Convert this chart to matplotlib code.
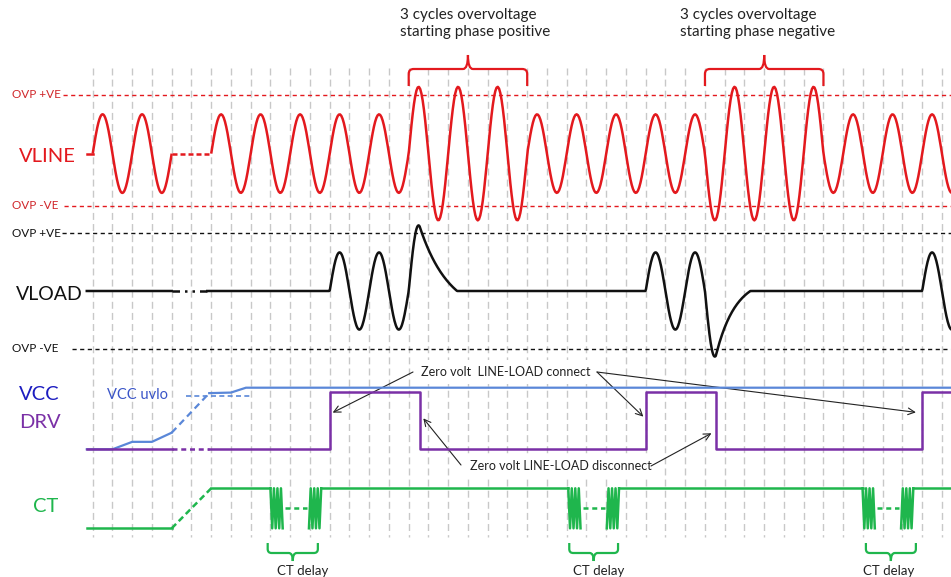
import numpy as np
import matplotlib
matplotlib.use("Agg")
import matplotlib.pyplot as plt
from matplotlib.path import Path
from matplotlib.patches import PathPatch
from matplotlib.transforms import blended_transform_factory

plt.rcParams.update({"font.family": ["Lato", "DejaVu Sans"]})

W_PX, H_PX = 951, 577
X0_PX, HALF_PX = 92.7, 19.75          # pixel of t=0 and pixels per mains half-cycle
T_LEFT = -X0_PX / HALF_PX
T_RIGHT = (W_PX - X0_PX) / HALF_PX

RED = "#e3191e"; INK = "#111111"; BLUE = "#5a87d8"; PURPLE = "#7a30a6"
GREEN = "#1fb64d"; NAVY = "#1c1cc0"; GRID = "#c8c8c8"

# ---------------- data (time in mains half-cycles, levels relative to nominal peak)
T_START = -0.3
# amplitude of each half-cycle of the line voltage (None = time break)
LINE_AMP = [1.0, 1.0, 1.0, 1.0,
            None, None,
            1.0, 1.0, 1.0, 1.0, 1.0, 1.0, 1.0, 1.0, 1.0, 1.0,
            1.7, 1.7, 1.7, 1.7, 1.7, 1.7,
            1.0, 1.0, 1.0, 1.0, 1.0, 1.0, 1.0, 1.0, 1.0,
            1.7, 1.7, 1.7, 1.7, 1.7, 1.7,
            1.0, 1.0, 1.0, 1.0, 1.0, 1.0, 1.0]
LINE_OVP = [1.5, -1.33]
LOAD_OVP = [1.5, -1.49]
OV_WINDOWS = [(16, 22, "3 cycles overvoltage\nstarting phase positive"),
              (31, 37, "3 cycles overvoltage\nstarting phase negative")]

DRV_ON = [12.0, 28.0, 42.0]
DRV_OFF = [16.55, 31.55, None]
LOAD_DECAY = [1.9, 1.75]              # ring-down length after each disconnect
LOAD_TAU = [1.5, 1.0]

VCC_T = [T_START, 1.0, 2.0, 3.0, 4.0]
VCC_V = [0.0, 0.0, 0.13, 0.13, 0.29]
VCC_RAMP_T = [4.0, 5.9]
VCC_RAMP_V = [0.29, 0.98]
VCC_RUN_T = [5.9, 7.0, 7.76, T_RIGHT + 1]
VCC_RUN_V = [0.98, 0.99, 1.075, 1.075]
UVLO_LEVEL = 0.93
UVLO_SPAN = (4.73, 8.0)

CT_RAMP = (4.0, 6.0)
CT_BURST = [9.0, 24.08, 38.98]
CT_DELAY = [(8.86, 11.4), (24.13, 26.6), (39.15, 41.68)]

OV_TEXT_X = [400, 680]                # layout (pixels)
CT_TEXT_X = [303, 599, 889]


def vline(t):
    t = np.asarray(t, dtype=float)
    out = np.zeros_like(t)
    for i, tt in enumerate(t):
        k = int(np.floor(tt))
        if 0 <= k < len(LINE_AMP) and LINE_AMP[k] is not None:
            out[i] = (-1) ** k * LINE_AMP[k] * np.sin(np.pi * (tt - k))
    return out


def vload(t):
    out = np.zeros_like(t)
    for on, off, dec, tau in zip(DRV_ON, DRV_OFF, LOAD_DECAY + [None], LOAD_TAU + [None]):
        end = T_RIGHT + 1 if off is None else off
        m = (t >= on) & (t <= end)
        out[m] = vline(t[m])
        if off is not None:
            v0 = vline([off])[0]
            m = (t > off) & (t <= off + dec)
            dt = t[m] - off
            out[m] = v0 * (np.exp(-dt / tau) - np.exp(-dec / tau)) / (1 - np.exp(-dec / tau))
    return out


# ---------------- figure
fig = plt.figure(figsize=(W_PX / 100, H_PX / 100), dpi=100)
fig.patch.set_facecolor("white")

page = fig.add_axes([0, 0, 1, 1])
page.set_xlim(0, W_PX); page.set_ylim(H_PX, 0)
page.axis("off")


def row_axes(center_px, gain_px):
    ax = fig.add_axes([0, 0, 1, 1])
    ax.set_xlim(T_LEFT, T_RIGHT)
    ax.set_ylim(-(H_PX - center_px) / gain_px, center_px / gain_px)
    ax.axis("off")
    ax.patch.set_visible(False)
    return ax


LINE_C, LINE_G = 153.6, 39.3
LOAD_C, LOAD_G = 291.0, 38.6
ax_line = row_axes(LINE_C, LINE_G)
ax_load = row_axes(LOAD_C, LOAD_G)
ax_drv = row_axes(449.3, 57.3)
ax_ct = row_axes(528.3, 40.0)

tpx = blended_transform_factory(ax_line.transData, page.transData)   # x: time, y: pixels

# time grid
page.vlines(np.arange(0, 44), 68, 537, transform=tpx, colors=GRID,
            linestyles=(0, (5, 3)), lw=1.0, zorder=0)

# ---- VLINE
lw = 1.8
for a, b in [(0, 4), (6, T_RIGHT + 0.5)]:
    t = np.linspace(a, b, 600)
    ax_line.plot(t, vline(t), color=RED, lw=lw, solid_capstyle="butt")
ax_line.plot([T_START, 0], [0, 0], color=RED, lw=lw)
ax_line.plot([4, 6], [0, 0], color=RED, lw=lw, ls=(0, (2, 1.2)))
for lvl, x_px, lab in zip(LINE_OVP, [63, 64], ["OVP +VE", "OVP -VE"]):
    ax_line.axhline(lvl, xmin=x_px / W_PX, color=RED, lw=1.0, ls=(0, (3, 2.5)))
    page.text(12, LINE_C - lvl * LINE_G, lab, color="#d0262a", fontsize=8.5, va="center")
page.text(19, 156, "VLINE", color=RED, fontsize=14.5, va="center")

# ---- VLOAD
for a, b in [(T_START, 4.0), (5.8, T_RIGHT + 0.5)]:
    t = np.linspace(a, b, 1200)
    ax_load.plot(t, vload(t), color=INK, lw=lw)
ax_load.plot([4.0, 5.8], [0, 0], color=INK, lw=lw, ls=(0, (3, 2, 1, 2, 1, 2)))
for lvl, x_px, lab in zip(LOAD_OVP, [62, 72], ["OVP +VE", "OVP -VE"]):
    ax_load.axhline(lvl, xmin=x_px / W_PX, color=INK, lw=1.0, ls=(0, (3, 2.5)))
    page.text(12, LOAD_C - lvl * LOAD_G, lab, color=INK, fontsize=8.5, va="center")
page.text(16, 294, "VLOAD", color=INK, fontsize=14, va="center")

# ---- VCC / DRV
ax_drv.plot(VCC_T, VCC_V, color=BLUE, lw=1.6)
ax_drv.plot(VCC_RAMP_T, VCC_RAMP_V, color=BLUE, lw=1.6, ls=(0, (3, 2)))
ax_drv.plot(VCC_RUN_T, VCC_RUN_V, color=BLUE, lw=1.6)
ax_drv.plot(UVLO_SPAN, [UVLO_LEVEL] * 2, color=BLUE, lw=1.2, ls=(0, (3, 2)))
page.text(107, 395, "VCC uvlo", color="#3a55c8", fontsize=10.5, va="center")

drv_t, drv_v = [T_START], [0.0]
for on, off in zip(DRV_ON, DRV_OFF):
    drv_t += [on, on]; drv_v += [0, 1]
    if off is None:
        drv_t.append(T_RIGHT + 1); drv_v.append(1)
    else:
        drv_t += [off, off]; drv_v += [1, 0]
drv_t = np.array(drv_t); drv_v = np.array(drv_v)
ax_drv.plot([T_START, 4.0], [0, 0], color=PURPLE, lw=lw)
ax_drv.plot([4.0, 5.9], [0, 0], color=PURPLE, lw=lw, ls=(0, (2, 1.5)))
ax_drv.plot(np.r_[5.9, drv_t[1:]], drv_v, color=PURPLE, lw=lw)
page.text(19, 395, "VCC", color=NAVY, fontsize=14.5, va="center")
page.text(19, 422, "DRV", color=PURPLE, fontsize=14.5, va="center")

# ---- CT
ax_ct.plot([T_START, CT_RAMP[0]], [0, 0], color=GREEN, lw=lw)
ax_ct.plot(CT_RAMP, [0, 1], color=GREEN, lw=lw, ls=(0, (2.5, 1.5)))
w, gap = 0.62, 1.95
ct_t, ct_v = [CT_RAMP[1]], [1.0]
for s in CT_BURST:
    ct_t += [s]; ct_v += [1.0]
    ax_ct.plot(np.linspace(s, s + w, 8), [1, 0, 1, 0, 1, 0, 1, 0], color=GREEN, lw=lw)
    ax_ct.plot([s + w + 0.1, s + gap - 0.1], [0.5, 0.5], color=GREEN, lw=lw, ls=(0, (2, 1.5)))
    ax_ct.plot(np.linspace(s + gap, s + gap + w, 8), [0, 1, 0, 1, 0, 1, 0, 1], color=GREEN, lw=lw)
    ax_ct.plot(ct_t, ct_v, color=GREEN, lw=lw)
    ct_t, ct_v = [s + gap + w], [1.0]
ax_ct.plot([ct_t[0], T_RIGHT + 1], [1, 1], color=GREEN, lw=lw)
page.text(33, 506, "CT", color=GREEN, fontsize=14.5, va="center")


# ---- braces
def brace(x0, x1, y_leg, y_bar, y_tip, color, rx=0.25, ry=5):
    s = 1 if y_leg > y_bar else -1
    xm = 0.5 * (x0 + x1)
    verts = [(x0, y_leg), (x0, y_bar + s * ry), (x0, y_bar), (x0 + rx, y_bar),
             (xm - rx, y_bar), (xm, y_bar), (xm, y_tip),
             (xm, y_bar), (xm + rx, y_bar), (x1 - rx, y_bar),
             (x1, y_bar), (x1, y_bar + s * ry), (x1, y_leg)]
    codes = [Path.MOVETO, Path.LINETO, Path.CURVE3, Path.CURVE3,
             Path.LINETO, Path.CURVE3, Path.CURVE3,
             Path.CURVE3, Path.CURVE3, Path.LINETO,
             Path.CURVE3, Path.CURVE3, Path.LINETO]
    page.add_patch(PathPatch(Path(verts, codes), transform=tpx, facecolor="none",
                             edgecolor=color, lw=1.6))


for (a, b, txt), x_px in zip(OV_WINDOWS, OV_TEXT_X):
    brace(a, b, 86, 69, 55, RED)
    page.text(x_px, 8, txt, fontsize=11, va="top", color="#222222", linespacing=1.25)

for (a, b), x_px in zip(CT_DELAY, CT_TEXT_X):
    brace(a, b, 543, 553, 561, GREEN, rx=0.2, ry=4)
    page.text(x_px, 571, "CT delay", fontsize=9.5, ha="center", va="center", color="#222222")

# ---- annotations
box = dict(boxstyle="square,pad=0.5", facecolor="white", edgecolor="none")
page.text(421, 372, "Zero volt  LINE-LOAD connect", fontsize=9, va="center",
          color="#222222", bbox=box, zorder=3)
page.text(470, 466, "Zero volt LINE-LOAD disconnect", fontsize=9, va="center",
          color="#222222", bbox=box, zorder=3)

arrow = dict(arrowstyle="->", lw=0.8, color="#222222", shrinkA=0, shrinkB=0,
             mutation_scale=12)
for tail, head in [((413, 372), (12.15, 0.64)), ((597, 372), (27.88, 0.57)),
                   ((597, 372), (41.68, 0.645)), ((461, 465), (16.74, 0.54)),
                   ((651, 466), (31.33, 0.28))]:
    page.annotate("", xy=head, xycoords=ax_drv.transData, xytext=tail,
                  textcoords="data", arrowprops=arrow, zorder=4)

fig.savefig("out.png", dpi=100, facecolor="white")
